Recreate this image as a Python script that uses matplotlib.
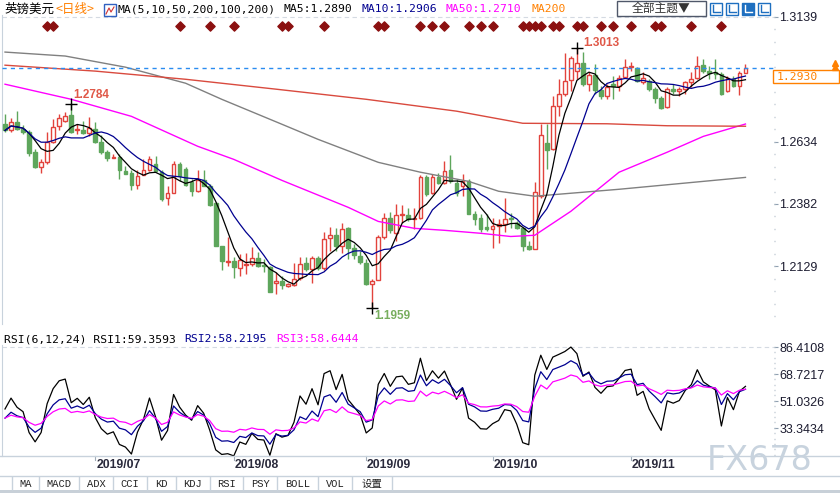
import numpy as np
import pandas as pd
import matplotlib
matplotlib.use('Agg')
import matplotlib.pyplot as plt
from matplotlib.patches import Rectangle
from matplotlib.transforms import blended_transform_factory

# 英镑美元 日线, 2019-06-10 起
opens = [1.2706, 1.2679, 1.2715, 1.2686, 1.2672, 1.2591, 1.2530, 1.2553, 1.2632, 1.2696,
         1.2719, 1.2740, 1.2679, 1.2681, 1.2669, 1.2686, 1.2632, 1.2591, 1.2569, 1.2571,
         1.2513, 1.2507, 1.2460, 1.2497, 1.2517, 1.2544, 1.2510, 1.2405, 1.2426, 1.2544,
         1.2524, 1.2472, 1.2436, 1.2479, 1.2453, 1.2386, 1.2213, 1.2147, 1.2150, 1.2121,
         1.2135, 1.2139, 1.2162, 1.2136, 1.2125, 1.2062, 1.2069, 1.2049, 1.2053, 1.2083,
         1.2141, 1.2119, 1.2161, 1.2123, 1.2245, 1.2258, 1.2211, 1.2283, 1.2202, 1.2173,
         1.2141, 1.2058, 1.2073, 1.2249, 1.2324, 1.2265, 1.2336, 1.2338, 1.2319, 1.2326,
         1.2492, 1.2424, 1.2492, 1.2468, 1.2517, 1.2468, 1.2454, 1.2474, 1.2343, 1.2323,
         1.2289, 1.2281, 1.2292, 1.2301, 1.2326, 1.2305, 1.2285, 1.2211, 1.2200, 1.2414,
         1.2630, 1.2603, 1.2779, 1.2826, 1.2884, 1.2920, 1.2951, 1.2866, 1.2903, 1.2843,
         1.2819, 1.2866, 1.2859, 1.2897, 1.2935, 1.2930, 1.2876, 1.2880, 1.2846, 1.2810,
         1.2772, 1.2846, 1.2839, 1.2846, 1.2873, 1.2893, 1.2943, 1.2920, 1.2916, 1.2909,
         1.2839, 1.2887, 1.2859, 1.2913]
highs = [1.2746, 1.2729, 1.2757, 1.2702, 1.2679, 1.2605, 1.2564, 1.2672, 1.2726, 1.2746,
         1.2753, 1.2784, 1.2706, 1.2719, 1.2733, 1.2712, 1.2659, 1.2598, 1.2584, 1.2584,
         1.2537, 1.2517, 1.2517, 1.2564, 1.2575, 1.2577, 1.2517, 1.2453, 1.2557, 1.2551,
         1.2530, 1.2483, 1.2521, 1.2517, 1.2463, 1.2389, 1.2213, 1.2247, 1.2166, 1.2179,
         1.2183, 1.2206, 1.2186, 1.2159, 1.2132, 1.2105, 1.2090, 1.2063, 1.2143, 1.2168,
         1.2168, 1.2173, 1.2171, 1.2268, 1.2289, 1.2285, 1.2305, 1.2288, 1.2218, 1.2191,
         1.2157, 1.2079, 1.2258, 1.2346, 1.2349, 1.2380, 1.2378, 1.2366, 1.2366, 1.2497,
         1.2497, 1.2501, 1.2508, 1.2555, 1.2578, 1.2484, 1.2501, 1.2481, 1.2353, 1.2339,
         1.2339, 1.2326, 1.2319, 1.2407, 1.2346, 1.2312, 1.2289, 1.2231, 1.2470, 1.2704,
         1.2704, 1.2819, 1.2887, 1.2992, 1.2981, 1.3013, 1.2995, 1.2914, 1.2947, 1.2859,
         1.2866, 1.2900, 1.2903, 1.2970, 1.2954, 1.2934, 1.2914, 1.2887, 1.2853, 1.2819,
         1.2853, 1.2866, 1.2853, 1.2880, 1.2914, 1.2981, 1.2967, 1.2941, 1.2967, 1.2916,
         1.2900, 1.2900, 1.2920, 1.2947]
lows = [1.2672, 1.2672, 1.2679, 1.2665, 1.2577, 1.2527, 1.2507, 1.2544, 1.2630, 1.2679,
        1.2712, 1.2670, 1.2665, 1.2665, 1.2658, 1.2630, 1.2584, 1.2557, 1.2567, 1.2483,
        1.2501, 1.2440, 1.2442, 1.2497, 1.2513, 1.2510, 1.2395, 1.2378, 1.2425, 1.2476,
        1.2453, 1.2415, 1.2429, 1.2453, 1.2372, 1.2213, 1.2116, 1.2132, 1.2081, 1.2092,
        1.2098, 1.2132, 1.2125, 1.2105, 1.2024, 1.2017, 1.2038, 1.2046, 1.2049, 1.2076,
        1.2110, 1.2063, 1.2116, 1.2116, 1.2191, 1.2191, 1.2184, 1.2157, 1.2160, 1.2137,
        1.2053, 1.1959, 1.2073, 1.2238, 1.2265, 1.2231, 1.2305, 1.2312, 1.2279, 1.2319,
        1.2413, 1.2420, 1.2461, 1.2461, 1.2468, 1.2413, 1.2413, 1.2343, 1.2295, 1.2268,
        1.2272, 1.2204, 1.2225, 1.2268, 1.2285, 1.2281, 1.2191, 1.2195, 1.2198, 1.2407,
        1.2522, 1.2600, 1.2738, 1.2819, 1.2839, 1.2887, 1.2859, 1.2839, 1.2826, 1.2806,
        1.2806, 1.2806, 1.2839, 1.2893, 1.2920, 1.2873, 1.2866, 1.2839, 1.2789, 1.2765,
        1.2768, 1.2826, 1.2819, 1.2826, 1.2853, 1.2887, 1.2913, 1.2887, 1.2887, 1.2822,
        1.2833, 1.2853, 1.2822, 1.2911]
closes = [1.2679, 1.2715, 1.2686, 1.2672, 1.2587, 1.2530, 1.2551, 1.2632, 1.2692, 1.2729,
          1.2737, 1.2672, 1.2686, 1.2669, 1.2688, 1.2632, 1.2591, 1.2568, 1.2572, 1.2517,
          1.2503, 1.2460, 1.2494, 1.2517, 1.2564, 1.2513, 1.2402, 1.2425, 1.2544, 1.2494,
          1.2459, 1.2436, 1.2480, 1.2453, 1.2378, 1.2213, 1.2150, 1.2152, 1.2125, 1.2156,
          1.2140, 1.2162, 1.2132, 1.2129, 1.2027, 1.2071, 1.2053, 1.2056, 1.2079, 1.2139,
          1.2119, 1.2161, 1.2123, 1.2241, 1.2257, 1.2211, 1.2281, 1.2204, 1.2177, 1.2148,
          1.2058, 1.2071, 1.2246, 1.2324, 1.2276, 1.2338, 1.2343, 1.2319, 1.2326, 1.2492,
          1.2420, 1.2492, 1.2468, 1.2515, 1.2474, 1.2424, 1.2474, 1.2343, 1.2319, 1.2281,
          1.2279, 1.2292, 1.2299, 1.2322, 1.2319, 1.2285, 1.2211, 1.2200, 1.2432, 1.2660,
          1.2600, 1.2776, 1.2826, 1.2880, 1.2974, 1.2951, 1.2866, 1.2903, 1.2843, 1.2819,
          1.2853, 1.2857, 1.2893, 1.2934, 1.2941, 1.2880, 1.2893, 1.2846, 1.2810, 1.2768,
          1.2846, 1.2839, 1.2846, 1.2873, 1.2889, 1.2941, 1.2920, 1.2913, 1.2907, 1.2826,
          1.2893, 1.2859, 1.2913, 1.2930]

dates = pd.bdate_range('2019-06-10', periods=len(closes))

# 长周期均线: 历史数据不在图内, 按图读点
ma50_idx = [0, 11, 21, 32, 38, 46, 57, 62, 68, 73, 79, 84, 88, 94, 102, 110, 116, 123]
ma50_val = [1.2866, 1.2805, 1.2736, 1.2615, 1.2562, 1.2477, 1.2368, 1.2311, 1.2283, 1.2275,
            1.2263, 1.2250, 1.2255, 1.2352, 1.2510, 1.2591, 1.2655, 1.2705]
ma100_idx = [0, 10, 20, 30, 36, 46, 52, 62, 69, 77, 82, 88, 102, 123]
ma100_val = [1.2996, 1.2980, 1.2935, 1.2870, 1.2805, 1.2704, 1.2643, 1.2550, 1.2510, 1.2473,
             1.2433, 1.2413, 1.2441, 1.2489]
ma200_idx = [0, 15, 30, 45, 60, 75, 86, 100, 110, 123]
ma200_val = [1.2943, 1.2919, 1.2886, 1.2846, 1.2805, 1.2757, 1.2708, 1.2706, 1.2698, 1.2696]

rsi_periods = [6, 12, 24]
rsi_start = [46.0, 40.0, 40.0]

signal_idx = [7, 8, 29, 34, 38, 46, 47, 53, 62, 63, 69, 71, 73, 77, 79, 81, 86, 87, 88, 89,
              91, 92, 95, 96, 99, 101, 104, 108, 109, 114, 119]

month_labels = ['2019/07', '2019/08', '2019/09', '2019/10', '2019/11']
price_ticks = [1.2129, 1.2382, 1.2634, 1.3139]
rsi_ticks = [33.3434, 51.0326, 68.7217, 86.4108]
tabs = ['MA', 'MACD', 'ADX', 'CCI', 'KD', 'KDJ', 'RSI', 'PSY', 'BOLL', 'VOL', '设置']
ma_header = ['MA5:1.2890', 'MA10:1.2906', 'MA50:1.2710', 'MA200']
rsi_header = ['RSI(6,12,24) RSI1:59.3593', 'RSI2:58.2195', 'RSI3:58.6444']

RED = '#e2433d'
GREEN = '#5ea65c'
NAVY = '#000090'
MAG = '#ff00ff'
ORANGE = '#ff8000'
AXC = '#c8d2dc'
PX = 0.000405  # 主图每像素价格


def rsi(c, n, r0):
    d = np.diff(c, prepend=c[0])
    tot = np.mean(np.abs(np.diff(c)))
    up = tot * r0 / 100
    out = []
    for i, x in enumerate(d):
        if i > 0:
            up = (max(x, 0) + (n - 1) * up) / n
            tot = (abs(x) + (n - 1) * tot) / n
        out.append(100 * up / tot)
    return np.array(out)


o = np.array(opens); h = np.array(highs); l = np.array(lows); c = np.array(closes)
idx = np.arange(len(c))
up = c >= o

W, H = 840, 493
fig = plt.figure(figsize=(W / 100, H / 100), dpi=100)


def box(x0, y0, x1, y1):
    return [x0 / W, 1 - y1 / H, (x1 - x0) / W, (y1 - y0) / H]


def fp(x, y):
    return x / W, 1 - y / H


ax = fig.add_axes(box(2, 15, 774, 324))
axr = fig.add_axes(box(2, 345, 774, 456))
xlim = (-0.5, -0.5 + 772 / 6.02)

# ---- 主图: K线 ----
ax.vlines(idx, l, h, colors=np.where(up, RED, GREEN), lw=1, zorder=2)
bot = np.minimum(o, c)
hgt = np.maximum(np.abs(c - o), 0.00025)
ax.bar(idx[up], hgt[up], bottom=bot[up], width=0.62, facecolor='white', edgecolor=RED, lw=1, zorder=3)
ax.bar(idx[~up], hgt[~up], bottom=bot[~up], width=0.62, facecolor=GREEN, edgecolor=GREEN, lw=1, zorder=3)

s = pd.Series(c)
ax.plot(idx, s.rolling(5, min_periods=1).mean(), color='black', lw=0.9, zorder=5)
ax.plot(idx, s.rolling(10, min_periods=1).mean(), color=NAVY, lw=0.9, zorder=5)
ax.plot(ma50_idx, ma50_val, color=MAG, lw=1, zorder=4)
ax.plot(ma100_idx, ma100_val, color='#808080', lw=1, zorder=4)
ax.plot(ma200_idx, ma200_val, color='#d94a3e', lw=1, zorder=4)

ax.axhline(c[-1], color='#2a8cf0', lw=1, ls=(0, (3, 3)), zorder=6)
ax.axhline(price_ticks[-1], color='#d4dae2', lw=0.8, ls=(0, (4, 3)), zorder=1)

trans = blended_transform_factory(ax.transData, ax.transAxes)
ax.scatter(signal_idx, [0.965] * len(signal_idx), marker='D', s=22, color='#8b1010',
           transform=trans, zorder=6, clip_on=False)

# 高低点标注
ih = int(np.argmax(h[:40])); ih2 = int(np.argmax(h)); il = int(np.argmin(l))
for i, val, col, dx, dy in [(ih, h[ih], '#e05848', 0.3, 9),
                            (ih2, h[ih2], '#e05848', 1.1, 5),
                            (il, l[il], '#78ae5e', 0.3, -8)]:
    ax.plot(i, val, marker='+', ms=8, color='black', mew=1, zorder=7)
    ax.text(i + dx, val + dy * PX, f'{val:.4f}', color=col, fontsize=8.5, fontweight='bold',
            family='Liberation Sans', ha='left', va='center', zorder=7)

ax.set_xlim(xlim)
ax.set_ylim(1.1896, 1.3146)
ax.yaxis.tick_right()
ax.set_yticks(price_ticks)
ax.set_yticklabels([f'{t:.4f}' for t in price_ticks])
ax.set_yticks(np.arange(1.1927, 1.3146, 0.005049), minor=True)
ax.tick_params(axis='y', which='major', length=3, width=0.8, color='#90a0b0', pad=1,
               labelsize=9, labelcolor='#1c1c30')
ax.tick_params(axis='y', which='minor', length=1, width=1, color='#b0bcc8')
for lab in ax.get_yticklabels():
    lab.set_family('Liberation Sans')
ax.set_xticks([])
for sp in ['top', 'right', 'bottom']:
    ax.spines[sp].set_visible(False)
ax.spines['left'].set_color(AXC)

# ---- RSI ----
colors = ['black', NAVY, MAG]
for n, r0, col in zip(rsi_periods, rsi_start, colors):
    axr.plot(idx, rsi(c, n, r0), color=col, lw=0.9)
axr.axhline(rsi_ticks[-1], color='#d4dae2', lw=0.8, ls=(0, (4, 3)), zorder=0)
axr.set_xlim(xlim)
axr.set_ylim(15.19, 87.92)
axr.yaxis.tick_right()
axr.set_yticks(rsi_ticks)
axr.set_yticklabels([f'{t:.4f}' for t in rsi_ticks])
axr.set_yticks(np.arange(16.0, 87.9, 3.5378), minor=True)
axr.tick_params(axis='y', which='major', length=3, width=0.8, color='#90a0b0', pad=1,
                labelsize=9, labelcolor='#1c1c30')
axr.tick_params(axis='y', which='minor', length=1, width=1, color='#b0bcc8')
for lab in axr.get_yticklabels():
    lab.set_family('Liberation Sans')
axr.set_xticks([])
for sp in ['top', 'right', 'bottom']:
    axr.spines[sp].set_visible(False)
axr.spines['left'].set_color(AXC)

# 日期刻度
month_pos = [int(np.argmax(dates.month == m)) for m in [7, 8, 9, 10, 11]]
tr2 = blended_transform_factory(axr.transData, fig.transFigure)
for p, lab in zip(month_pos, month_labels):
    fig.add_artist(plt.Line2D([p, p], [1 - 456 / H, 1 - 460 / H], color='#a0acb8', lw=0.8, transform=tr2))
    fig.text(p + 0.15, 1 - 464.5 / H, lab, transform=tr2, fontsize=8.8, fontweight='bold',
             family='Liberation Sans', color='#2a2a3c', ha='left', va='center')

for yy in [456, 476]:
    fig.add_artist(plt.Line2D([0, 1], [1 - yy / H] * 2, color=AXC, lw=1))
fig.add_artist(Rectangle(fp(0, 493), 1, 3 / H, color='#c8d0d8', lw=0))

# 底部标签
seps = [12, 39, 79, 113, 147, 176, 210, 243, 277, 318, 352, 392]
for x in seps:
    fig.add_artist(plt.Line2D([x / W] * 2, [1 - 477 / H, 1 - 490 / H], color=AXC, lw=1))
for a, b, t in zip(seps[:-1], seps[1:], tabs):
    fig.text((a + b) / 2 / W, 1 - 484 / H, t, fontsize=7.5, ha='center', va='center', color='#222',
             family=['Liberation Mono', 'Noto Sans CJK SC'])

# ---- 标题栏 ----
mono = 'DejaVu Sans Mono'
fig.text(*fp(4, 9), '英镑美元', fontsize=9, family=['Noto Sans CJK SC', 'DejaVu Sans'], va='center', color='black')
fig.text(*fp(55, 9), '<日线>', fontsize=9, family=['Noto Sans CJK SC', 'DejaVu Sans'], va='center', color=ORANGE)
fig.add_artist(Rectangle(fp(104, 16), 12 / W, 12 / H, facecolor='white', edgecolor='#3060c0', lw=1))
fig.add_artist(plt.Line2D([106 / W, 109 / W, 111 / W, 114 / W], [1 - 14 / H, 1 - 8 / H, 1 - 12 / H, 1 - 7 / H],
                          color='#d03030', lw=0.8))
fig.text(*fp(118, 9), 'MA(5,10,50,200,100,200)', fontsize=8.2, family=mono, va='center', color='black')
for x, t, col in zip([284, 362, 446, 532], ma_header, ['black', NAVY, MAG, ORANGE]):
    fig.text(*fp(x, 9), t, fontsize=8.2, family=mono, va='center', color=col)

fig.add_artist(Rectangle(fp(617, 16), 89 / W, 15 / H, facecolor='white', edgecolor='#50586a', lw=1))
fig.text(*fp(661, 8.5), '全部主题▼', fontsize=8.5, family=['Noto Sans CJK SC', 'DejaVu Sans'],
         ha='center', va='center', color='#333')
for k, x in enumerate([710, 726, 742, 758]):
    filled = k == 2
    fig.add_artist(Rectangle(fp(x, 15), 12 / W, 12 / H, facecolor='#1e6fc0' if filled else 'white',
                             edgecolor='#1e6fc0', lw=1))
    gc = 'white' if filled else '#1e6fc0'
    fig.add_artist(plt.Line2D([(x + 3) / W, (x + 3) / W, (x + 10) / W], [1 - 5 / H, 1 - 12 / H, 1 - 12 / H],
                              color=gc, lw=1))

# RSI 标题
for x, t, col in zip([4, 184, 276], rsi_header, colors):
    fig.text(*fp(x, 339), t, fontsize=8.2, family=mono, va='center', color=col)

# 现价框
fig.add_artist(Rectangle(fp(773, 83), 66 / W, 13 / H, facecolor='white', edgecolor=ORANGE, lw=1))
fig.text(*fp(777, 77), f'{c[-1]:.4f}', fontsize=8.2, family=mono, va='center', color=ORANGE)
for yy in [63, 67]:
    fig.add_artist(plt.Line2D([fp(835, 0)[0]], [fp(0, yy)[1]], marker='^', ms=4, color=ORANGE, lw=0))

fig.text(*fp(760, 460), 'FX678', fontsize=24, color='#c8d3de', ha='center', va='center',
         family='DejaVu Sans', zorder=10)

fig.savefig('out.png', dpi=100)
